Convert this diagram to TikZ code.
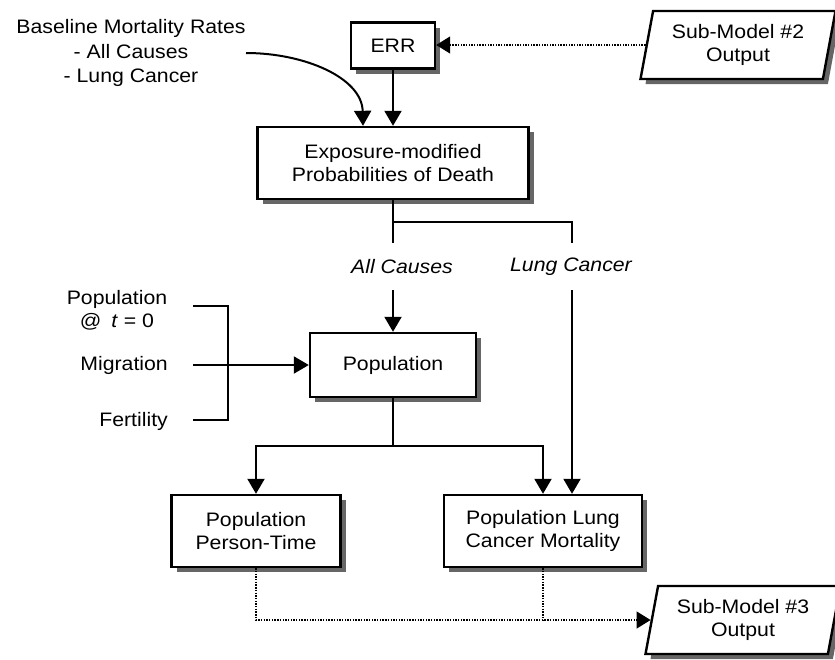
\documentclass[tikz,border=0pt]{standalone}
\usepackage{fontspec}
\setmainfont{Liberation Sans}[FakeStretch=1.09]
\usetikzlibrary{arrows.meta,shapes.geometric,shadows}

\begin{document}
\begin{tikzpicture}[x=1pt,y=-1pt,
  font=\fontsize{19.5}{23}\selectfont,
  box/.style={draw, line width=2.4pt, fill=white, align=center, inner sep=0pt,
    drop shadow={shadow xshift=5pt, shadow yshift=-5pt, fill=black!60, opacity=1}},
  outbox/.style={box, trapezium, trapezium left angle=73, trapezium right angle=107,
    trapezium stretches body, minimum width=195pt, minimum height=68pt},
  conn/.style={line width=2pt},
  arr/.style={conn, -{Triangle[length=15pt,width=17pt]}},
  dots/.style={line width=1.4pt, dash pattern=on 1.4pt off 1.3pt},
  darr/.style={dots, -{Triangle[length=14pt,width=17pt]}},
  lbl/.style={align=center, inner sep=0pt},
]
\useasboundingbox (0,0) rectangle (835,659);

% process boxes
\node[box, minimum width=84pt, minimum height=46pt] (err) at (393,45.5) {ERR};
\node[box, minimum width=271pt, minimum height=72pt] (exp) at (393,163)
  {Exposure-modified\\Probabilities of Death};
\node[box, minimum width=166pt, minimum height=64pt] (pop) at (393,365) {Population};
\node[box, minimum width=169pt, minimum height=72pt] (ptime) at (256,531)
  {Population\\Person-Time};
\node[box, minimum width=198pt, minimum height=72pt] (lcm) at (543,531)
  {Population Lung\\Cancer Mortality};

% sub-model inputs and outputs
\node[outbox] (sm2) at (738,45) {Sub-Model \#2\\Output};
\node[outbox] (sm3) at (743,620) {Sub-Model \#3\\Output};

% free text labels
\node[lbl, font=\fontsize{19.5}{24.5}\selectfont] (base) at (131,53)
  {Baseline Mortality Rates\\- All Causes\\- Lung Cancer};
\node[lbl] (pop0) at (117,310) {Population\\@\enspace\textit{t} = 0};
\node[lbl, anchor=east] (mig) at (168,365) {Migration};
\node[lbl, anchor=east] (fert) at (168,421) {Fertility};
\node[lbl] (ac) at (402,267) {\itshape All Causes};
\node[lbl] (lc) at (571,267) {\itshape Lung Cancer};

% routing points
\coordinate (baseout) at (246,53);
\coordinate (split) at (393,222);
\coordinate (acA) at (393,243);
\coordinate (lcA) at (572,243);
\coordinate (acB) at (393,290);
\coordinate (lcB) at (572,290);
\coordinate (split2) at (393,446);
\coordinate (brT) at (193,306);
\coordinate (brB) at (193,420);

% baseline rates and ERR into probabilities
\draw[arr] (baseout) .. controls (305,53) and (362,78) .. ([xshift=-30pt]exp.north);
\draw[arr] (err.south) -- (exp.north);
\draw[darr] (sm2.180) -- (sm2.180 -| err.east);

% split by cause of death
\draw[conn] (exp.south) -- (split) -- (acA);
\draw[conn] (split) -| (lcA);
\draw[arr] (acB) -- (pop.north);
\draw[arr] (lcB) -- (lcB |- lcm.north);

% demographic inputs
\draw[conn] (brT) -- ++(35,0) |- (brB);
\draw[arr] ([xshift=25pt]mig.east) -- (pop.west);

% population outputs
\draw[conn] (pop.south) -- (split2);
\draw[arr] (split2) -| (ptime.north);
\draw[arr] (split2) -| (lcm.north);
\draw[darr] (ptime.south) |- (sm3.180);
\draw[dots] (lcm.south) -- (lcm.south |- sm3.180);
\end{tikzpicture}
\end{document}
